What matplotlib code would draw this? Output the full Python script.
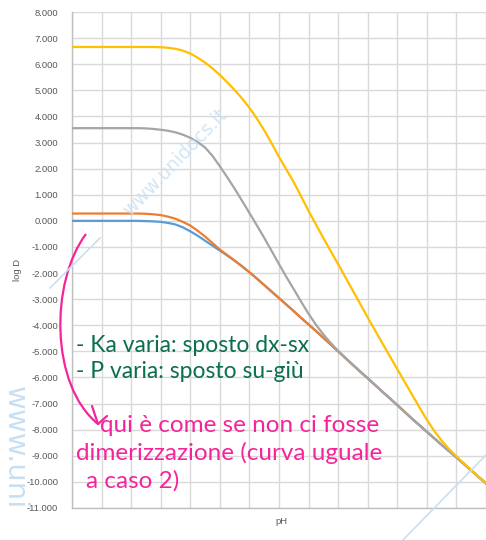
import matplotlib
matplotlib.use("Agg")
import matplotlib.pyplot as plt
from matplotlib.path import Path
from matplotlib.patches import PathPatch
from matplotlib.lines import Line2D
from matplotlib.ticker import FuncFormatter, MultipleLocator

# pH grid (step 0.25) and log D for the four cases
ph = [0.0, 0.25, 0.5, 0.75, 1.0, 1.25, 1.5, 1.75, 2.0, 2.25, 2.5, 2.75,
      3.0, 3.25, 3.5, 3.75, 4.0, 4.25, 4.5, 4.75, 5.0, 5.25, 5.5, 5.75,
      6.0, 6.25, 6.5, 6.75, 7.0, 7.25, 7.5, 7.75, 8.0, 8.25, 8.5, 8.75,
      9.0, 9.25, 9.5, 9.75, 10.0, 10.25, 10.5, 10.75, 11.0, 11.25, 11.5,
      11.75, 12.0, 12.25, 12.5, 12.75, 13.0, 13.25, 13.5, 13.75, 14.0]

logd_case1 = [0.00, 0.00, 0.00, 0.00, 0.00, 0.00, 0.00, 0.00, 0.00, 0.00,
              -0.01, -0.02, -0.04, -0.08, -0.14, -0.25, -0.40, -0.57, -0.76,
              -0.95, -1.14, -1.33, -1.53, -1.74, -1.97, -2.21, -2.46, -2.71,
              -2.96, -3.21, -3.46, -3.72, -3.97, -4.22, -4.48, -4.74, -5.00,
              -5.26, -5.52, -5.78, -6.03, -6.29, -6.55, -6.80, -7.06, -7.32,
              -7.58, -7.83, -8.08, -8.33, -8.58, -8.82, -9.06, -9.31, -9.56,
              -9.81, -10.06]
logd_case2 = [0.28, 0.28, 0.28, 0.28, 0.28, 0.28, 0.28, 0.28, 0.28, 0.28,
              0.27, 0.25, 0.22, 0.16, 0.08, -0.04, -0.18, -0.38, -0.60,
              -0.85, -1.10, -1.31, -1.52, -1.74, -1.97, -2.21, -2.46, -2.71,
              -2.96, -3.21, -3.46, -3.72, -3.97, -4.22, -4.48, -4.74, -5.00,
              -5.26, -5.52, -5.78, -6.03, -6.29, -6.55, -6.80, -7.06, -7.32,
              -7.58, -7.83, -8.08, -8.33, -8.58, -8.82, -9.06, -9.31, -9.56,
              -9.81, -10.06]
logd_case3 = [3.55, 3.55, 3.55, 3.55, 3.55, 3.55, 3.55, 3.55, 3.55, 3.55,
              3.54, 3.52, 3.49, 3.45, 3.39, 3.30, 3.18, 3.02, 2.81, 2.49,
              2.09, 1.67, 1.23, 0.77, 0.30, -0.17, -0.65, -1.15, -1.66,
              -2.15, -2.62, -3.10, -3.56, -3.98, -4.35, -4.68, -4.98, -5.26,
              -5.52, -5.78, -6.03, -6.29, -6.55, -6.80, -7.06, -7.32, -7.58,
              -7.83, -8.08, -8.33, -8.58, -8.82, -9.06, -9.31, -9.56, -9.81,
              -10.06]
logd_case4 = [6.66, 6.66, 6.66, 6.66, 6.66, 6.66, 6.66, 6.66, 6.66, 6.66,
              6.66, 6.66, 6.65, 6.63, 6.59, 6.52, 6.41, 6.25, 6.06, 5.84,
              5.59, 5.31, 5.01, 4.69, 4.33, 3.92, 3.47, 2.97, 2.45, 1.96,
              1.48, 0.93, 0.38, -0.14, -0.66, -1.16, -1.66, -2.17, -2.68,
              -3.19, -3.70, -4.20, -4.70, -5.19, -5.68, -6.17, -6.66, -7.15,
              -7.62, -8.05, -8.42, -8.74, -9.02, -9.29, -9.55, -9.80, -10.06]

series_colors = ["#5B9BD5", "#ED7D31", "#A5A5A5", "#FFC000"]

note_green = ["- Ka varia: sposto dx-sx", "- P varia: sposto su-giù"]
note_pink = ["qui è come se non ci fosse",
             "dimerizzazione (curva uguale",
             "a caso 2)"]

W, H = 486, 540
fig = plt.figure(figsize=(W / 100, H / 100), dpi=100)
fig.patch.set_facecolor("white")


def fxy(x, y):
    """Pixel position (from top-left) to figure fraction."""
    return x / W, 1 - y / H


left, right, top, bottom = 72, 486, 12, 508
ax = fig.add_axes([left / W, 1 - bottom / H, (right - left) / W, (bottom - top) / H])

for vals, col in zip([logd_case1, logd_case2, logd_case3, logd_case4], series_colors):
    ax.plot(ph, vals, color=col, lw=1.6, solid_capstyle="round",
            solid_joinstyle="round", zorder=3)

ax.set_xlim(0, 14)
ax.set_ylim(-11, 8)
ax.yaxis.set_major_locator(MultipleLocator(1))
ax.xaxis.set_major_locator(MultipleLocator(1))
ax.yaxis.set_major_formatter(FuncFormatter(lambda v, p: f"{v:.3f}".replace("\u2212", "-")))
ax.grid(True, color="#d9d9d9", lw=1.0, zorder=0)
ax.tick_params(axis="y", length=0, pad=10, labelsize=6.8, labelcolor="#595959")
ax.tick_params(axis="x", length=0, labelbottom=False)
for lab in ax.get_yticklabels():
    lab.set_fontfamily("Liberation Sans")
for s in ["top", "right"]:
    ax.spines[s].set_visible(False)
for s in ["left", "bottom"]:
    ax.spines[s].set_color("#bfbfbf")
    ax.spines[s].set_linewidth(1.0)

fig.text(*fxy(17, 270), "log D", rotation=90, ha="center", va="center",
         fontsize=6.8, color="#595959", family="Liberation Sans")
fig.text(*fxy(281, 521), "pH", ha="center", va="center",
         fontsize=6.8, color="#595959", family="Liberation Sans")

# watermark
wm = "#c9dff2"
fig.text(*fxy(175, 163), "www.unidocs.it", rotation=46, ha="center", va="center",
         fontsize=13.5, color=wm, alpha=0.8, family="DejaVu Sans")
fig.text(*fxy(15, 386), "www.uni", rotation=-90, ha="center", va="top",
         fontsize=21, color=wm, family="DejaVu Sans")
for (x0, y0), (x1, y1) in [((50, 288), (100, 238)), ((403, 540), (486, 455))]:
    fig.add_artist(Line2D([x0 / W, x1 / W], [1 - y0 / H, 1 - y1 / H],
                          transform=fig.transFigure, color=wm, lw=1.2))

# handwritten notes
green = "#0b6e4f"
pink = "#f5249b"
hand = dict(family="Lato", va="center", ha="left")
fig.text(*fxy(76, 346), note_green[0], color=green, fontsize=16.5, **hand)
fig.text(*fxy(76, 372), note_green[1], color=green, fontsize=16.5, **hand)
fig.text(*fxy(100, 425), note_pink[0], color=pink, fontsize=17.5, **hand)
fig.text(*fxy(76, 453), note_pink[1], color=pink, fontsize=17.5, **hand)
fig.text(*fxy(86, 481), note_pink[2], color=pink, fontsize=17.5, **hand)

# curved arrow
pts = [fxy(86, 234), fxy(50, 282), fxy(50, 385), fxy(98, 424)]
arc = Path(pts, [Path.MOVETO, Path.CURVE4, Path.CURVE4, Path.CURVE4])
fig.add_artist(PathPatch(arc, transform=fig.transFigure, fill=False,
                         edgecolor=pink, lw=1.6))
for x0, y0 in [(92, 406), (107, 416)]:
    fig.add_artist(Line2D([x0 / W, 98 / W], [1 - y0 / H, 1 - 424 / H],
                          transform=fig.transFigure, color=pink, lw=1.6,
                          solid_capstyle="round"))

fig.savefig("out.png", dpi=100)
